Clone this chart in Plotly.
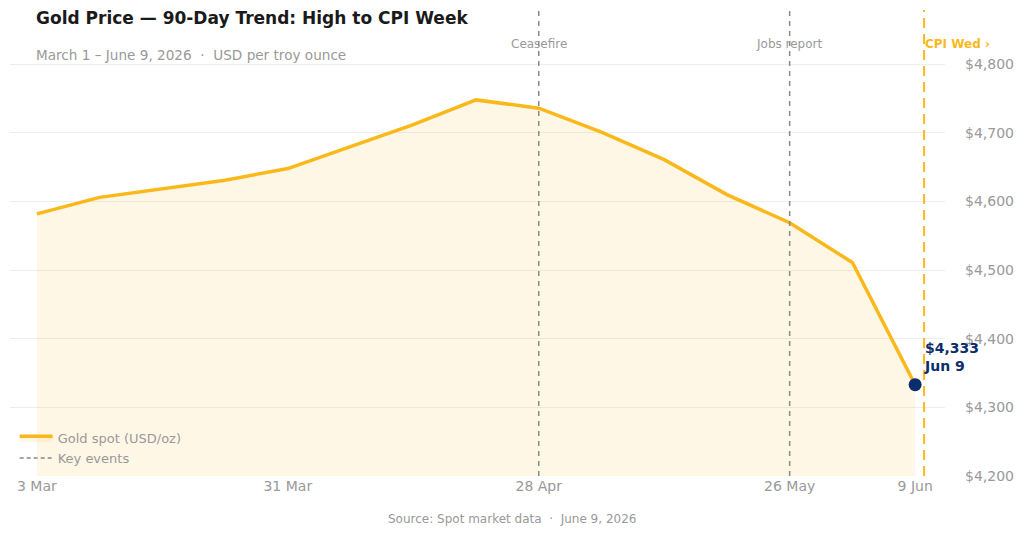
import plotly.graph_objects as go

dates = ["2026-03-03", "2026-03-10", "2026-03-24", "2026-03-31", "2026-04-14",
         "2026-04-21", "2026-04-28", "2026-05-05", "2026-05-12", "2026-05-19",
         "2026-05-26", "2026-06-02", "2026-06-09"]
prices = [4582, 4606, 4631, 4648, 4712, 4748, 4736, 4701, 4661, 4610, 4569, 4511, 4333]

event_dates = ["2026-04-28", "2026-05-26"]
event_labels = ["Ceasefire", "Jobs report"]
cpi_date = "2026-06-10"
cpi_label = "CPI Wed ›"

tick_dates = ["2026-03-03", "2026-03-31", "2026-04-28", "2026-05-26", "2026-06-09"]
tick_text = ["3 Mar", "31 Mar", "28 Apr", "26 May", "9 Jun"]
y_ticks = [4200, 4300, 4400, 4500, 4600, 4700, 4800]
y_text = ["$4,200", "$4,300", "$4,400", "$4,500", "$4,600", "$4,700", "$4,800"]

GOLD = "#fbb81b"
NAVY = "#0b2d6b"
GRAY = "#999999"
FONT = "DejaVu Sans"

fig = go.Figure()
fig.add_trace(go.Scatter(
    x=dates, y=prices, mode="lines", name="Gold spot (USD/oz)",
    line=dict(color=GOLD, width=3.5), fill="tozeroy",
    fillcolor="rgba(251,184,27,0.11)", hoverinfo="skip"))
fig.add_trace(go.Scatter(
    x=[None], y=[None], mode="lines", name="Key events",
    line=dict(color="#888888", width=1.5, dash="4px,3px")))
fig.add_trace(go.Scatter(
    x=[dates[-1]], y=[prices[-1]], mode="markers", showlegend=False,
    marker=dict(color=NAVY, size=13)))

shapes = []
annotations = []
top = 1.0
for d, lab in zip(event_dates, event_labels):
    shapes.append(dict(type="line", xref="x", yref="paper", x0=d, x1=d, y0=0, y1=top,
                       line=dict(color="#8a8a8a", width=1.5, dash="5px,5px")))
    annotations.append(dict(x=d, y=0.927, xref="x", yref="paper", text=lab,
                            showarrow=False, xanchor="center", yanchor="middle",
                            font=dict(family=FONT, size=12, color=GRAY)))
shapes.append(dict(type="line", xref="x", yref="paper", x0=cpi_date, x1=cpi_date, y0=0, y1=top,
                   line=dict(color=GOLD, width=2, dash="10px,6px")))
annotations.append(dict(x=cpi_date, y=0.927, xref="x", yref="paper", text="<b>" + cpi_label + "</b>",
                        showarrow=False, xanchor="left", yanchor="middle", xshift=-1,
                        font=dict(family=FONT, size=12, color=GOLD)))
annotations.append(dict(x=cpi_date, y=4374, xref="x", yref="y",
                        text="<b>$4,333<br>Jun 9</b>", align="left",
                        showarrow=False, xanchor="left", yanchor="middle", xshift=-2,
                        font=dict(family=FONT, size=14, color=NAVY)))
annotations.append(dict(x=24/935, y=0.983, xref="paper", yref="paper",
                        text="<b>Gold Price — 90-Day Trend: High to CPI Week</b>",
                        showarrow=False, xanchor="left", yanchor="middle",
                        font=dict(family=FONT, size=17, color="#1a1a1a")))
annotations.append(dict(x=24/935, y=0.903, xref="paper", yref="paper",
                        text="March 1 – June 9, 2026  ·  USD per troy ounce",
                        showarrow=False, xanchor="left", yanchor="middle",
                        font=dict(family=FONT, size=13.6, color=GRAY)))
annotations.append(dict(x=502/935, y=-0.092, xref="paper", yref="paper",
                        text="Source: Spot market data  ·  June 9, 2026",
                        showarrow=False, xanchor="center", yanchor="middle",
                        font=dict(family=FONT, size=12, color=GRAY)))

fig.update_layout(
    width=1024, height=534,
    margin=dict(l=10, r=79, t=10, b=58),
    paper_bgcolor="white", plot_bgcolor="white",
    font=dict(family=FONT, color=GRAY),
    shapes=shapes, annotations=annotations,
    showlegend=True,
    legend=dict(x=0.005, y=0.006, xanchor="left", yanchor="bottom",
                bgcolor="rgba(0,0,0,0)", font=dict(family=FONT, size=13, color=GRAY),
                tracegroupgap=0, itemwidth=33),
    xaxis=dict(range=["2026-02-28", "2026-06-12 08:00"], tickvals=tick_dates,
               ticktext=tick_text, showgrid=False, zeroline=False, showline=False,
               tickfont=dict(family=FONT, size=14, color=GRAY)),
    yaxis=dict(range=[4200, 4879], side="right", tickvals=y_ticks, ticktext=y_text,
               showgrid=True, gridcolor="#eeeeee", gridwidth=1, zeroline=False,
               showline=False, ticklabelstandoff=19,
               tickfont=dict(family=FONT, size=14, color=GRAY)),
)

fig.write_html("out.html")
